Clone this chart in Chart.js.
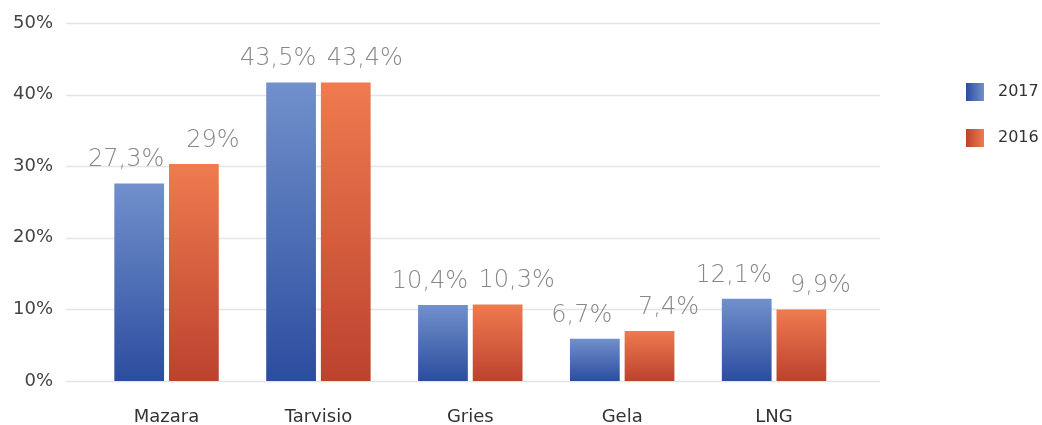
<!DOCTYPE html>
<html>
<head>
<meta charset="utf-8">
<script src="https://cdn.jsdelivr.net/npm/chart.js@4.4.1/dist/chart.umd.min.js"></script>
<style>
  html, body { margin: 0; padding: 0; background: #ffffff; }
  #wrap { position: relative; width: 1042px; height: 425px; }
</style>
</head>
<body>
<div id="wrap"><canvas id="c" width="1042" height="425"></canvas></div>
<script>
// ---- data ----
const categories = ['Mazara', 'Tarvisio', 'Gries', 'Gela', 'LNG'];
const seriesNames = ['2017', '2016'];
const values2017 = [27.6, 41.7, 10.6, 5.9, 11.5];
const values2016 = [30.3, 41.7, 10.7, 7.0, 10.0];
const labels2017 = ['27,3%', '43,5%', '10,4%', '6,7%', '12,1%'];
const labels2016 = ['29%', '43,4%', '10,3%', '7,4%', '9,9%'];
const yTicks = [0, 10, 20, 30, 40, 50];

const FONT = '"DejaVu Sans", sans-serif';
const LIGHT_FONT = '"DejaVu Sans ExtraLight", "DejaVu Sans", sans-serif';
const gradStops = {
  '2017': ['#7190cc', '#2c4d9f'],
  '2016': ['#ef7b4f', '#bc422e']
};

function barGradient(ctx, key) {
  const chart = ctx.chart;
  const y = chart.scales && chart.scales.y;
  if (!y || typeof ctx.raw !== 'number') return gradStops[key][1];
  const top = y.getPixelForValue(ctx.raw);
  const bottom = y.getPixelForValue(0);
  if (!isFinite(top) || !isFinite(bottom) || top === bottom) return gradStops[key][1];
  const g = chart.ctx.createLinearGradient(0, top, 0, bottom);
  g.addColorStop(0, gradStops[key][0]);
  g.addColorStop(1, gradStops[key][1]);
  return g;
}

const gridPlugin = {
  id: 'extGrid',
  beforeDatasetsDraw(chart) {
    const y = chart.scales.y;
    const c = chart.ctx;
    c.save();
    c.strokeStyle = '#e4e4e4';
    c.lineWidth = 1.5;
    yTicks.forEach(v => {
      const py = Math.round(y.getPixelForValue(v)) + 0.5;
      c.beginPath();
      c.moveTo(66, py);
      c.lineTo(880, py);
      c.stroke();
    });
    c.restore();
  }
};

const labelPlugin = {
  id: 'valLabels',
  afterDatasetsDraw(chart) {
    const c = chart.ctx;
    const texts = [labels2017, labels2016];
    const offsets = [-13, 19];
    c.save();
    c.font = '300 24px ' + LIGHT_FONT;
    c.fillStyle = '#888888';
    c.textAlign = 'center';
    c.textBaseline = 'alphabetic';
    chart.data.datasets.forEach((ds, di) => {
      const meta = chart.getDatasetMeta(di);
      meta.data.forEach((bar, i) => {
        c.fillText(texts[di][i], bar.x + offsets[di], bar.y - 17);
      });
    });
    c.restore();
  }
};

const legendPlugin = {
  id: 'sideLegend',
  afterDraw(chart) {
    const c = chart.ctx;
    c.save();
    c.font = '16px ' + FONT;
    c.textAlign = 'left';
    c.textBaseline = 'middle';
    seriesNames.forEach((name, i) => {
      const top = 83 + i * 46;
      const g = c.createLinearGradient(966, 0, 984, 0);
      g.addColorStop(0, gradStops[name][1]);
      g.addColorStop(1, gradStops[name][0]);
      c.fillStyle = g;
      c.fillRect(966, top, 18, 18);
      c.fillStyle = '#333333';
      c.fillText(name, 998, top + 9);
    });
    c.restore();
  }
};

new Chart(document.getElementById('c'), {
  type: 'bar',
  data: {
    labels: categories,
    datasets: [
      { label: seriesNames[0], data: values2017, backgroundColor: ctx => barGradient(ctx, '2017') },
      { label: seriesNames[1], data: values2016, backgroundColor: ctx => barGradient(ctx, '2016') }
    ]
  },
  options: {
    responsive: false,
    animation: false,
    devicePixelRatio: 1,
    categoryPercentage: 0.72,
    barPercentage: 0.91,
    layout: { padding: { left: 0, right: 192, top: 23, bottom: 0 } },
    plugins: { legend: { display: false }, tooltip: { enabled: false } },
    scales: {
      x: {
        grid: { display: false, drawTicks: true, tickLength: 22 },
        border: { display: false },
        ticks: { color: '#333333', font: { family: FONT, size: 18 }, padding: 4 },
        afterFit(s) { s.height = 44; }
      },
      y: {
        min: 0, max: 50,
        afterBuildTicks(s) { s.ticks = yTicks.map(v => ({ value: v })); },
        grid: { display: false, drawTicks: true, tickLength: 33 },
        border: { display: false },
        ticks: { color: '#444444', font: { family: FONT, size: 18 }, padding: 4.6, callback: v => v + '%' },
        afterFit(s) { s.width = 90.6; }
      }
    }
  },
  plugins: [gridPlugin, labelPlugin, legendPlugin]
});
</script>
</body>
</html>
